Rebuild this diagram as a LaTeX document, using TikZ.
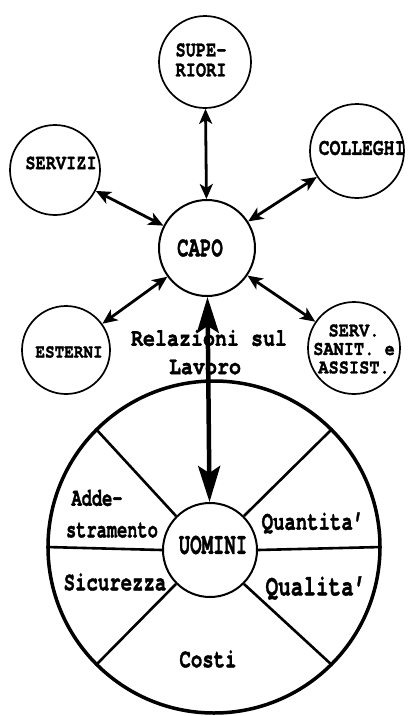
\documentclass[tikz,border=0pt]{standalone}
\usepackage{fontspec}
\usepackage{graphicx}
\newfontfamily\tw{TeX Gyre Cursor}[BoldFeatures={FakeBold=1.5}]
\usetikzlibrary{arrows.meta}
\newcommand{\vs}[2]{\scalebox{1}[#1]{#2}}
\newcommand{\tws}[2]{\tw\bfseries\fontsize{#1}{#2}\selectfont}
\begin{document}
\begin{tikzpicture}[x=1pt,y=-1pt,
  bubble/.style={circle,draw,line width=1.7pt,inner sep=0pt},
  lbl/.style={inner sep=0pt,align=center},
  tipS/.tip={Stealth[length=15pt,width=13pt,inset=4pt]},
  tipB/.tip={Stealth[length=36pt,width=22pt,inset=7pt]},
  dbl/.style={line width=2.8pt,tipS-tipS},
  bigarrow/.style={line width=4.5pt,tipB-tipB},
  divider/.style={line width=2.6pt}]
\useasboundingbox (0,0) rectangle (410,716);
\fill[white] (0,0) rectangle (410,716);

% outer circles
\node[bubble,minimum size=92pt] (sup) at (205,62) {};
\node[bubble,minimum size=90pt] (serv) at (55,170) {};
\node[bubble,minimum size=94pt] (coll) at (357,151) {};
\node[bubble,minimum size=88pt] (est) at (66,350) {};
\node[bubble,minimum size=92pt] (san) at (354,348) {};
\node[bubble,minimum size=96pt,line width=2pt] (capo) at (207,248) {};

% wheel
\node[circle,draw,line width=3.5pt,minimum size=332pt,inner sep=0pt] (wheel) at (214,547) {};
\node[bubble,minimum size=94pt,line width=2pt] (uom) at (210,550) {};
\draw[divider] (uom.135) -- (wheel.135);
\draw[divider] (uom.45) -- (wheel.45);
\draw[divider] (uom.225) -- (wheel.225);
\draw[divider] (uom.315) -- (wheel.315);
\draw[divider] (uom.180) -- (wheel.180);
\draw[divider] (uom.0) -- (wheel.0);

% labels
\node[lbl,align=left,font=\tws{17}{20}] (tsup) at (201,60) {\vs{1.3}{SUPE-}\\\vs{1.3}{RIORI}};
\node[lbl,font=\tws{17}{20}] (tserv) at (61,163) {\vs{1.25}{SERVIZI}};
\node[lbl,font=\tws{18}{20}] (tcoll) at (362,148) {\vs{1.3}{COLLEGHI}};
\node[lbl,font=\tws{19}{22}] (tcapo) at (200,248) {\vs{1.5}{CAPO}};
\node[lbl,font=\tws{16}{19}] (test) at (69,352) {\vs{1.2}{ESTERNI}};
\node[lbl,font=\tws{17}{18.5}] (tsan) at (354,349) {\vs{1.2}{SERV.}\\\vs{1.2}{SANIT. e}\\\vs{1.2}{ASSIST.}};
\node[lbl,font=\tws{20}{24}] (rel1) at (209,338) {\vs{1.25}{Relazioni sul}};
\node[lbl,font=\tws{20}{24}] (rel2) at (205,367) {\vs{1.25}{Lavoro}};

\node[lbl,font=\tws{17}{20}] (tadd1) at (97,498) {\vs{1.5}{Adde-}};
\node[lbl,font=\tws{17}{20}] (tadd2) at (112,530) {\vs{1.5}{stramento}};
\node[lbl,font=\tws{19}{22}] (tquan) at (313,523) {\vs{1.4}{Quantita’}};
\node[lbl,font=\tws{19}{22}] (tuom) at (213,545) {\vs{1.6}{UOMINI}};
\node[lbl,font=\tws{19}{22}] (tsic) at (115,582) {\vs{1.4}{Sicurezza}};
\node[lbl,font=\tws{21}{24}] (tqual) at (316,588) {\vs{1.4}{Qualita’}};
\node[lbl,font=\tws{19}{22}] (tcost) at (208,659) {\vs{1.4}{Costi}};

% arrows
\draw[dbl] (capo) -- (sup);
\draw[dbl] (capo) -- (serv);
\draw[dbl] (capo) -- (coll);
\draw[dbl] (capo) -- (est);
\draw[dbl] (capo) -- (san);
\draw[bigarrow] (capo) -- (uom);
\end{tikzpicture}
\end{document}
